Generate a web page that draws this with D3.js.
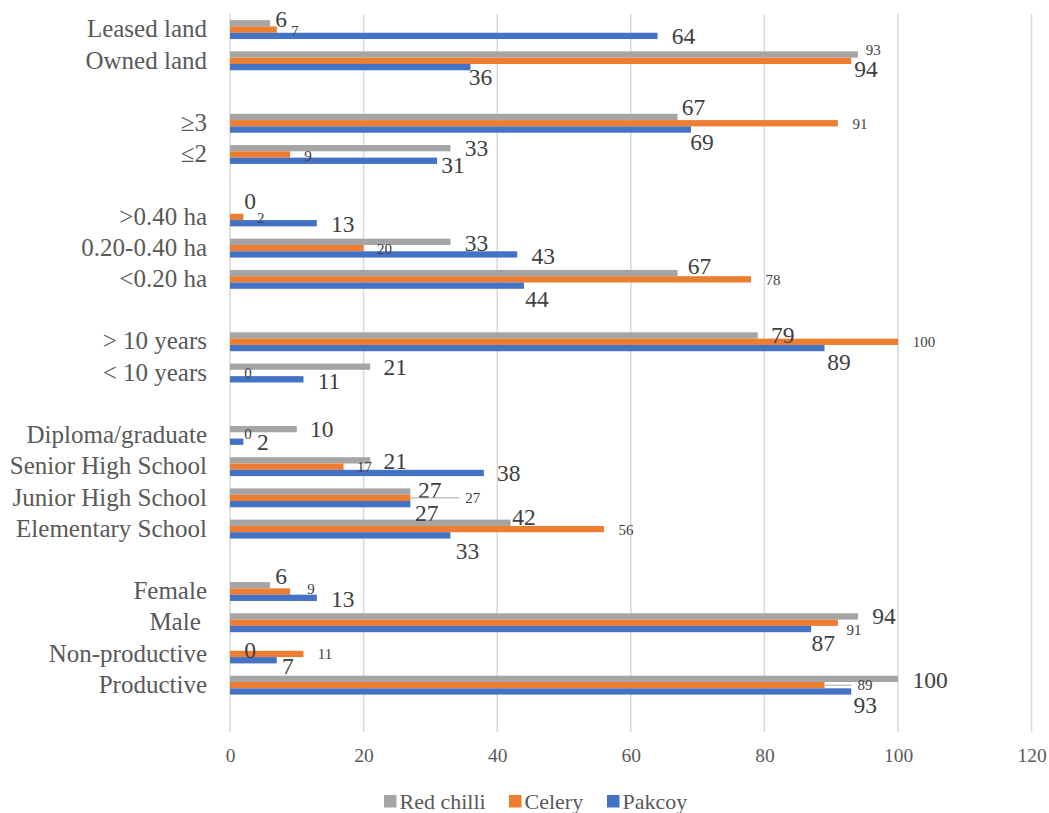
<!DOCTYPE html>
<html>
<head>
<meta charset="utf-8">
<script src="https://cdn.jsdelivr.net/npm/d3@7"></script>
<style>
  html, body { margin: 0; padding: 0; background: #fff; }
  svg text { font-family: "Liberation Serif", "DejaVu Serif", "Times New Roman", serif; white-space: pre; }
</style>
</head>
<body>
<svg id="chart" width="1049" height="813"></svg>
<script>
// Category rows, top to bottom (empty strings are spacer rows between groups)
const categories = [
  "Leased land", "Owned land", "",
  "\u22653", "\u22642", "",
  ">0.40 ha", "0.20-0.40 ha", "<0.20 ha", "",
  "> 10 years", "< 10 years", "",
  "Diploma/graduate", "Senior High School", "Junior High School", "Elementary School", "",
  "Female", "Male ", "Non-productive", "Productive", ""
];

// Percentages per crop
const redChilli = [6, 94, null, 67, 33, null, 0, 33, 67, null, 79, 21, null, 10, 21, 27, 42, null, 6, 94, 0, 100, null];
const celery    = [7, 93, null, 91, 9, null, 2, 20, 78, null, 100, 0, null, 0, 17, 27, 56, null, 9, 91, 11, 89, null];
const pakcoy    = [64, 36, null, 69, 31, null, 13, 43, 44, null, 89, 11, null, 2, 38, 27, 33, null, 13, 87, 7, 93, null];

const seriesNames = ["Red chilli", "Celery", "Pakcoy"];
const xTicks = [0, 20, 40, 60, 80, 100, 120];

// Hand-placed data label nudges [dx, dy] from bar end / bar centre
const chilliNudge = [[11,-4],[8,14.5],null,[16,-10],[26,0],null,[20,-10],[26,1],[22,-7],null,[25,0],[25,0.5],null,[25,0],[25,1],[19.5,-1.5],[13.5,-5.5],null,[11,-9],[26,0],[20,2],[32,1.5],null];
const celeryNudge = [[18,1],[22,-11],null,[22,1],[18,1.5],null,[17.5,1],[21,1],[22,1],null,[26,0.5],[18,0],null,[18,-1],[21,0.5],[62.5,0],[22,1],null,[21,-3],[16,7.5],[21.5,0.5],[40.5,0],null];
const pakcoyNudge = [[26,0],[10,10],null,[11,12],[16,4],null,[26,1],[26,2],[13,13.5],null,[14.5,14],[25.5,2],null,[19.5,0.5],[25,0],[16.5,9],[17,16],null,[26,1.5],[12,14],[11,6],[14,14],null];

const colors = ["#a5a5a5", "#ed7d31", "#4472c4"];
const series = [
  { name: seriesNames[0], values: redChilli, nudge: chilliNudge, color: colors[0], big: true,  slot: -1 },
  { name: seriesNames[1], values: celery,    nudge: celeryNudge, color: colors[1], big: false, slot: 0 },
  { name: seriesNames[2], values: pakcoy,    nudge: pakcoyNudge, color: colors[2], big: true,  slot: 1 }
];

const svg = d3.select("#chart");

const x = d3.scaleLinear().domain([0, 120]).range([230, 1031.6]);
const y = d3.scaleBand().domain(d3.range(categories.length)).range([14, 732]).padding(0);
const barH = 6.3;
const plotTop = 14, plotBottom = 732;

// Vertical gridlines
svg.append("g")
  .selectAll("line")
  .data(xTicks)
  .join("line")
  .attr("x1", d => x(d)).attr("x2", d => x(d))
  .attr("y1", plotTop).attr("y2", plotBottom)
  .attr("stroke", "#d9d9d9")
  .attr("stroke-width", 1.5);

// Bars
series.forEach(s => {
  svg.append("g")
    .selectAll("rect")
    .data(s.values.map((v, i) => ({ v, i })).filter(d => d.v !== null))
    .join("rect")
    .attr("x", x(0))
    .attr("y", d => y(d.i) + y.bandwidth() / 2 + s.slot * barH - barH / 2)
    .attr("width", d => x(d.v) - x(0))
    .attr("height", barH)
    .attr("fill", s.color);
});

// Data labels (with leader lines where a label sits far from its bar)
series.forEach(s => {
  const g = svg.append("g");
  s.values.forEach((v, i) => {
    if (v === null) return;
    const [dx, dy] = s.nudge[i];
    const cy = y(i) + y.bandwidth() / 2 + s.slot * barH;
    const fs = s.big ? 23.5 : 15;
    const lx = x(v) + dx, ly = cy + dy;
    if (dx > 35) {
      const halfW = String(v).length * fs * 0.25;
      g.append("line")
        .attr("x1", x(v)).attr("x2", lx - halfW - 6)
        .attr("y1", ly).attr("y2", ly)
        .attr("stroke", "#a6a6a6").attr("stroke-width", 1);
    }
    g.append("text")
      .attr("x", lx).attr("y", ly)
      .attr("text-anchor", "middle")
      .attr("dominant-baseline", "central")
      .attr("font-size", fs)
      .attr("fill", "#404040")
      .text(v);
  });
});

// Category labels
svg.append("g")
  .selectAll("text")
  .data(categories.map((c, i) => ({ c, i })).filter(d => d.c !== ""))
  .join("text")
  .attr("x", 207)
  .attr("y", d => y(d.i) + y.bandwidth() / 2 - 0.8)
  .attr("text-anchor", "end")
  .attr("dominant-baseline", "central")
  .attr("font-size", 25)
  .attr("fill", "#595959")
  .text(d => d.c);

// Value axis
const xAxis = svg.append("g")
  .attr("transform", `translate(0,${plotBottom})`)
  .call(d3.axisBottom(x).tickValues(xTicks).tickSize(0).tickPadding(0).tickFormat(d3.format("d")));
xAxis.attr("font-family", null);
xAxis.select(".domain").remove();
xAxis.selectAll("text")
  .attr("y", 23)
  .attr("dy", null)
  .attr("dominant-baseline", "central")
  .attr("font-size", 19.5)
  .attr("fill", "#595959");

// Legend
const legendItems = [
  { name: seriesNames[0], color: colors[0], x: 384 },
  { name: seriesNames[1], color: colors[1], x: 509 },
  { name: seriesNames[2], color: colors[2], x: 607 }
];
const lg = svg.append("g");
legendItems.forEach(d => {
  lg.append("rect").attr("x", d.x).attr("y", 795).attr("width", 12.5).attr("height", 12.5).attr("fill", d.color);
  lg.append("text")
    .attr("x", d.x + 15.5).attr("y", 801)
    .attr("dominant-baseline", "central")
    .attr("font-size", 22)
    .attr("fill", "#595959")
    .text(d.name);
});
</script>
</body>
</html>
